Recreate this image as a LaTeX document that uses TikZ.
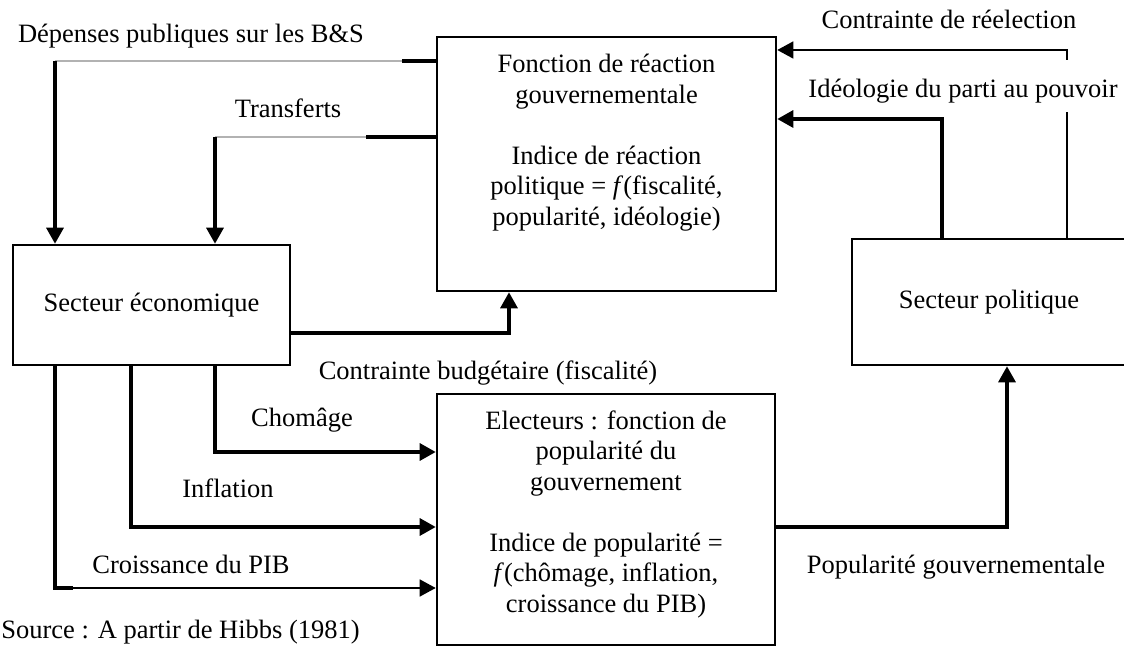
\documentclass[tikz,border=0pt]{standalone}
\usepackage{fontspec}
\setmainfont{Liberation Serif}
\usetikzlibrary{arrows.meta}

\begin{document}
\begin{tikzpicture}[x=0.5pt, y=-0.5pt, font=\fontsize{13.25}{15.25}\selectfont,
		boite/.style={draw, line width=1.3pt, inner sep=0pt},
		trait/.style={line width=1.6pt},
		fin/.style={line width=0.75pt},
		gris/.style={line width=0.7pt, gray!60},
		fleche/.style={-{Triangle[length=8pt, width=8.5pt]}},
		etiq/.style={anchor=base, inner sep=0pt}]
		\useasboundingbox (0,0) rectangle (1124,646);
		\node[boite, minimum width=138.5pt, minimum height=60pt] (SE) at (151.5,305) {Secteur économique};
		\node[boite, minimum width=169.5pt, minimum height=127pt] (FR) at (606.5,164) {};
		\node[boite, minimum width=169pt, minimum height=125.5pt] (EL) at (606,519.5) {};
		\node[boite, minimum width=137pt, minimum height=63pt] (SP) at (989,302) {Secteur politique};
		\node[anchor=north, inner sep=0pt, align=center] (FRt) at (606.5,54) {Fonction de réaction\\gouvernementale\\[15.25pt]Indice de réaction\\politique = \textit{f}(fiscalité,\\popularité, idéologie)};
		\node[anchor=north, inner sep=0pt, align=center] (ELt) at (606,410) {Electeurs : fonction de\\popularité du\\gouvernement\\[15.25pt]Indice de popularité =\\\textit{f}(chômage, inflation,\\croissance du PIB)};
		\coordinate (D1) at (402,61);
		\coordinate (D2) at (55,61);
		\coordinate (T1) at (366,137);
		\coordinate (T2) at (215,137);
		\coordinate (B) at (509,333);
		\coordinate (C) at (215,452);
		\coordinate (I) at (131,527);
		\coordinate (P1) at (55,588);
		\coordinate (P2) at (73,588);
		\coordinate (G) at (1007,527);
		\coordinate (R) at (942,119);
		\coordinate (E) at (1067,50);
		\draw[trait] (FR.west |- D1) -- (D1);
		\draw[gris] (D1) -- (D2);
		\draw[trait, fleche] (D2) -- (SE.north -| D2);
		\draw[trait] (FR.west |- T1) -- (T1);
		\draw[gris] (T1) -- (T2);
		\draw[trait, fleche] (T2) -- (SE.north -| T2);
		\draw[trait, fleche] (SE.east |- B) -| (FR.south -| B);
		\draw[trait, fleche] (SE.south -| C) |- (EL.west |- C);
		\draw[trait, fleche] (SE.south -| I) |- (EL.west |- I);
		\draw[trait] (SE.south -| P1) |- (P2);
		\draw[fin, fleche] (P2) -- (EL.west |- P2);
		\draw[trait, fleche] (EL.east |- G) -| (SP.south -| G);
		\draw[trait, fleche] (SP.north -| R) |- (FR.east |- R);
		\draw[fin, fleche] (SP.north -| E) |- (FR.east |- E);
		\node[etiq] (dep) at (191,43) {Dépenses publiques sur les B\&S};
		\node[etiq] (tra) at (288,118) {Transferts};
		\node[etiq] (ree) at (949,29) {Contrainte de réelection};
		\node[etiq, fill=white, inner xsep=2pt, text height=19pt, text depth=7pt] (ide) at (963,98) {Idéologie du parti au pouvoir};
		\node[etiq] (bud) at (488,380) {Contrainte budgétaire (fiscalité)};
		\node[etiq] (cho) at (302,427) {Chomâge};
		\node[etiq] (inf) at (228,497) {Inflation};
		\node[etiq] (cro) at (191,573) {Croissance du PIB};
		\node[etiq] (pop) at (956,573) {Popularité gouvernementale};
		\node[etiq, anchor=base west] (src) at (1,638) {Source : A partir de Hibbs (1981)};
	\end{tikzpicture}
\end{document}
